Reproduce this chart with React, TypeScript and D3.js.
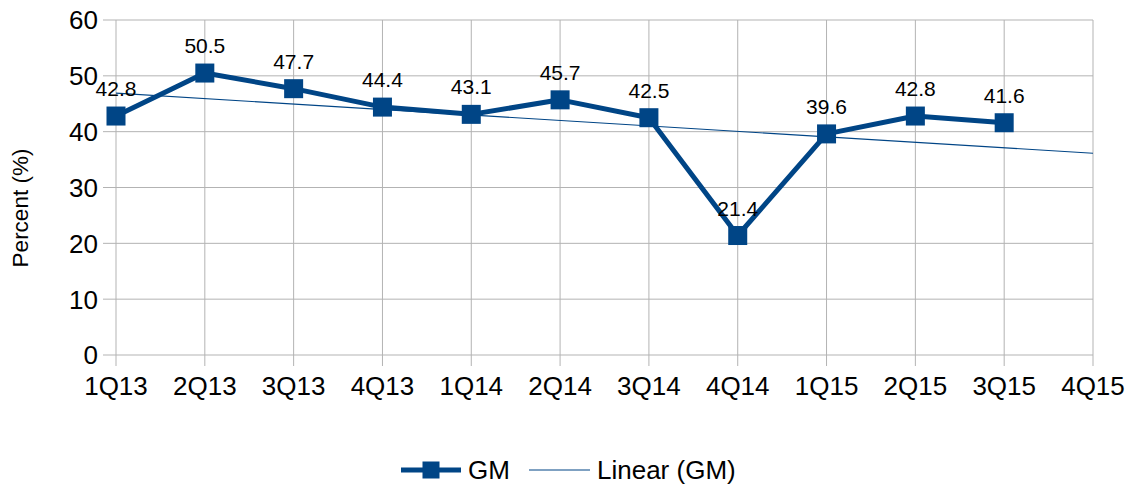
import { useEffect, useRef } from 'react';
import * as d3 from 'd3';

const quarters = ['1Q13', '2Q13', '3Q13', '4Q13', '1Q14', '2Q14', '3Q14', '4Q14', '1Q15', '2Q15', '3Q15', '4Q15'];
const gm = [42.8, 50.5, 47.7, 44.4, 43.1, 45.7, 42.5, 21.4, 39.6, 42.8, 41.6];
const yTicks = [0, 10, 20, 30, 40, 50, 60];

const BLUE = '#004586';
const GRID = '#b3b3b3';
const FONT = '"Liberation Sans", Arial, sans-serif';

const App = () => {
  const svgRef = useRef<SVGSVGElement>(null);

  useEffect(() => {
    const width = 1130;
    const height = 487;
    const m = { left: 116, right: 37, top: 20, bottom: 132 };

    const svg = d3.select(svgRef.current)
      .attr('width', width)
      .attr('height', height)
      .style('font-family', FONT);

    svg.selectAll('*').remove();

    const x = d3.scalePoint<string>()
      .domain(quarters)
      .range([m.left, width - m.right]);

    const y = d3.scaleLinear()
      .domain([0, 60])
      .range([height - m.bottom, m.top]);

    // horizontal grid + ticks
    svg.append('g')
      .selectAll('line')
      .data(yTicks)
      .join('line')
      .attr('x1', m.left - 13)
      .attr('x2', width - m.right)
      .attr('y1', d => y(d))
      .attr('y2', d => y(d))
      .attr('stroke', GRID)
      .attr('stroke-width', 1);

    // vertical grid + ticks
    svg.append('g')
      .selectAll('line')
      .data(quarters)
      .join('line')
      .attr('x1', d => x(d)!)
      .attr('x2', d => x(d)!)
      .attr('y1', m.top)
      .attr('y2', height - m.bottom + 11)
      .attr('stroke', GRID)
      .attr('stroke-width', 1);

    // y tick labels
    svg.append('g')
      .selectAll('text')
      .data(yTicks)
      .join('text')
      .attr('x', m.left - 18)
      .attr('y', d => y(d))
      .attr('dy', '0.36em')
      .attr('text-anchor', 'end')
      .attr('font-size', 26)
      .attr('fill', '#000')
      .text(d => d);

    // x tick labels
    svg.append('g')
      .selectAll('text')
      .data(quarters)
      .join('text')
      .attr('x', d => x(d)!)
      .attr('y', height - m.bottom + 40)
      .attr('text-anchor', 'middle')
      .attr('font-size', 26)
      .attr('fill', '#000')
      .text(d => d);

    // axis title
    svg.append('text')
      .attr('transform', `translate(28,${208}) rotate(-90)`)
      .attr('text-anchor', 'middle')
      .attr('font-size', 22.5)
      .attr('fill', '#000')
      .text('Percent (%)');

    // linear trend (least squares over the series)
    const idx = gm.map((_, i) => i);
    const mx = d3.mean(idx)!;
    const my = d3.mean(gm)!;
    const slope = d3.sum(idx, i => (i - mx) * (gm[i] - my)) / d3.sum(idx, i => (i - mx) ** 2);
    const icpt = my - slope * mx;
    const trend = [0, quarters.length - 1].map(i => ({ q: quarters[i], v: icpt + slope * i }));

    svg.append('path')
      .datum(trend)
      .attr('fill', 'none')
      .attr('stroke', BLUE)
      .attr('stroke-width', 1.2)
      .attr('d', d3.line<{ q: string; v: number }>()
        .x(d => x(d.q)!)
        .y(d => y(d.v)));

    const pts = gm.map((v, i) => ({ q: quarters[i], v }));

    svg.append('path')
      .datum(pts)
      .attr('fill', 'none')
      .attr('stroke', BLUE)
      .attr('stroke-width', 5)
      .attr('stroke-linejoin', 'round')
      .attr('d', d3.line<{ q: string; v: number }>()
        .x(d => x(d.q)!)
        .y(d => y(d.v)));

    const sz = 19;
    svg.append('g')
      .selectAll('rect')
      .data(pts)
      .join('rect')
      .attr('x', d => x(d.q)! - sz / 2)
      .attr('y', d => y(d.v) - sz / 2)
      .attr('width', sz)
      .attr('height', sz)
      .attr('fill', BLUE);

    // data labels
    svg.append('g')
      .selectAll('text')
      .data(pts)
      .join('text')
      .attr('x', d => x(d.q)!)
      .attr('y', d => y(d.v) - 20)
      .attr('text-anchor', 'middle')
      .attr('font-size', 21)
      .attr('fill', '#000')
      .text(d => d.v.toFixed(1));

    // legend
    const ly = 470;
    const lg = svg.append('g');
    lg.append('line')
      .attr('x1', 401).attr('x2', 461)
      .attr('y1', ly).attr('y2', ly)
      .attr('stroke', BLUE).attr('stroke-width', 5);
    lg.append('rect')
      .attr('x', 431 - 8.5).attr('y', ly - 8.5)
      .attr('width', 17).attr('height', 17)
      .attr('fill', BLUE);
    lg.append('text')
      .attr('x', 468).attr('y', ly).attr('dy', '0.36em')
      .attr('font-size', 26).attr('fill', '#000')
      .text('GM');
    lg.append('line')
      .attr('x1', 529).attr('x2', 590)
      .attr('y1', ly).attr('y2', ly)
      .attr('stroke', BLUE).attr('stroke-width', 1.2);
    lg.append('text')
      .attr('x', 597).attr('y', ly).attr('dy', '0.36em')
      .attr('font-size', 26).attr('fill', '#000')
      .text('Linear (GM)');
  }, []);

  return (
    <div style={{ position: 'absolute', left: 0, top: 0 }}>
      <svg ref={svgRef} style={{ display: 'block' }}></svg>
    </div>
  );
};

export default App;
